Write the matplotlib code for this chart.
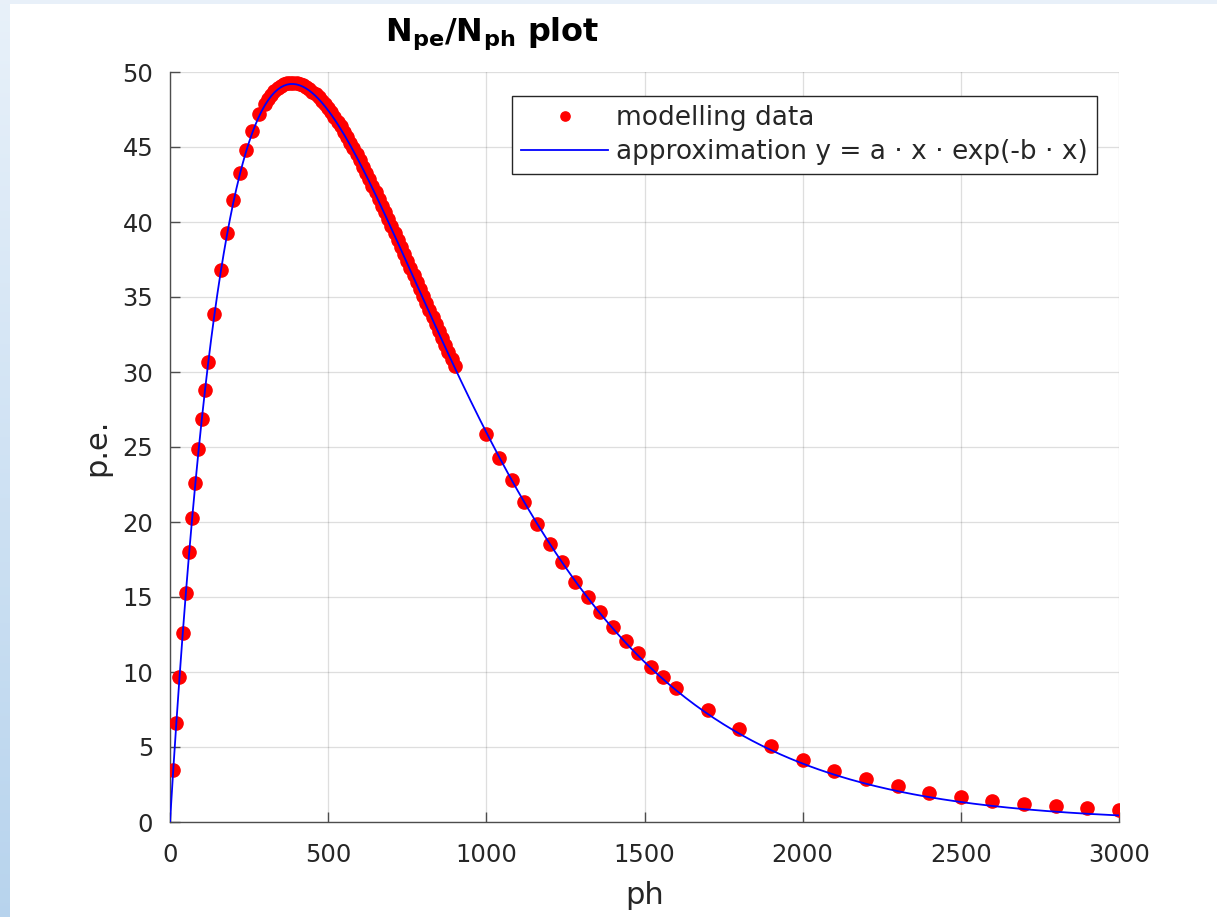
import numpy as np
import matplotlib
matplotlib.use("Agg")
import matplotlib.pyplot as plt
from matplotlib.patches import Rectangle

plt.rcParams['font.family'] = ['DejaVu Sans']

# ---- data -------------------------------------------------------------
x_low = [10, 20, 30, 40, 50, 60, 70, 80, 90, 100, 110, 120]
y_low = [3.45, 6.6, 9.7, 12.6, 15.3, 18.0, 20.3, 22.6, 24.9, 26.9, 28.8, 30.7]

x_rise = [140, 160, 180, 200, 220, 240, 260, 280]
y_rise = [33.9, 36.8, 39.3, 41.5, 43.3, 44.8, 46.1, 47.2]

x_peak = list(range(300, 910, 10))
y_peak = [47.9, 48.2, 48.5, 48.75, 48.95, 49.1, 49.2, 49.27, 49.3, 49.3,
          49.27, 49.2, 49.12, 49.0, 48.87, 48.7, 48.52, 48.32, 48.1, 47.86,
          47.6, 47.32, 47.02, 46.7, 46.37, 46.02, 45.67, 45.3, 44.92, 44.52,
          44.12, 43.7, 43.3, 42.86, 42.43, 42.0, 41.56, 41.1, 40.66, 40.2,
          39.75, 39.28, 38.82, 38.36, 37.9, 37.42, 36.95, 36.48, 36.0, 35.53,
          35.07, 34.6, 34.12, 33.66, 33.2, 32.74, 32.28, 31.82, 31.36, 30.9,
          30.4]

x_mid = list(range(1000, 1640, 40))
y_mid = [25.9, 24.25, 22.8, 21.35, 19.9, 18.53, 17.35, 16.0, 15.0, 14.0,
         12.98, 12.09, 11.25, 10.35, 9.65, 8.91]

x_tail = list(range(1700, 3100, 100))
y_tail = [7.47, 6.2, 5.07, 4.13, 3.4, 2.87, 2.4, 1.93, 1.65, 1.37,
          1.2, 1.07, 0.92, 0.8]

# fit parameters of y = a * x * exp(-b * x)
fit_a = 0.3465
fit_b = 1.0 / 386.0
fit_x = np.linspace(0, 3000, 301)

x_ticks = [0, 500, 1000, 1500, 2000, 2500, 3000]
y_ticks = [0, 5, 10, 15, 20, 25, 30, 35, 40, 45, 50]

x_data = x_low + x_rise + x_peak + x_mid + x_tail
y_data = y_low + y_rise + y_peak + y_mid + y_tail

# ---- figure -----------------------------------------------------------
W, H = 1217, 917
fig = plt.figure(figsize=(W / 100, H / 100), dpi=100)
fig.patch.set_facecolor('white')

# light-blue page edges
grad_ax = fig.add_axes([0, 0, 10 / W, 1])
grad = np.linspace(0, 1, 256).reshape(-1, 1)
top_c = np.array([0.91, 0.945, 0.98])
bot_c = np.array([0.72, 0.83, 0.93])
img = top_c[None, None, :] * (1 - grad[:, :, None]) + bot_c[None, None, :] * grad[:, :, None]
grad_ax.imshow(img, aspect='auto', extent=[0, 1, 0, 1])
grad_ax.axis('off')
fig.patches.append(Rectangle((0, 1 - 4 / H), 1, 4 / H, transform=fig.transFigure,
                             facecolor='#e8f0f9', edgecolor='none', zorder=0))

ax = fig.add_axes([170 / W, 1 - 822 / H, (1119 - 170) / W, (822 - 72) / H])

fit_y = fit_a * fit_x * np.exp(-fit_b * fit_x)

ax.plot(x_data, y_data, linestyle='none', marker='o', markersize=9.5,
        color='red', markeredgecolor='red', label='modelling data', zorder=3)
ax.plot(fit_x, fit_y, color='#0000ff', linewidth=1.3,
        label='approximation y = a \u00b7 x \u00b7 exp(-b \u00b7 x)', zorder=4)

ax.set_xlim(0, 3000)
ax.set_ylim(0, 50)
ax.set_xticks(x_ticks)
ax.set_yticks(y_ticks)
ax.grid(True, color='#262626', alpha=0.15, linewidth=0.9)
ax.set_axisbelow(True)

for s in ['top', 'right']:
    ax.spines[s].set_visible(False)
for s in ['left', 'bottom']:
    ax.spines[s].set_color('#4d4d4d')
    ax.spines[s].set_linewidth(1.0)

ax.tick_params(direction='in', length=7, width=1.0, colors='#4d4d4d',
               labelcolor='#262626', labelsize=17.5)
ax.tick_params(axis='y', pad=12)
ax.tick_params(axis='x', pad=15)

ax.set_xlabel('ph', fontsize=22, color='#262626', labelpad=10)
ax.set_ylabel('p.e.', fontsize=22, color='#262626', labelpad=8)

fig.text(492 / W, 1 - 34 / H,
         r'$\mathbf{N_{pe}/N_{ph}}$' + ' plot',
         ha='center', va='center', fontsize=23, fontweight='bold', color='black')

leg = ax.legend(loc='upper right', bbox_to_anchor=((1097 - 170) / 949, (822 - 96) / 750),
                fontsize=19, frameon=True, fancybox=False, framealpha=1,
                edgecolor='#262626', borderaxespad=0, handlelength=3.3,
                handletextpad=0.3, markerscale=0.7, labelspacing=0.3,
                borderpad=0.35)
leg.get_frame().set_linewidth(1.0)
for t in leg.get_texts():
    t.set_color('#262626')

fig.savefig('out.png', dpi=100)
